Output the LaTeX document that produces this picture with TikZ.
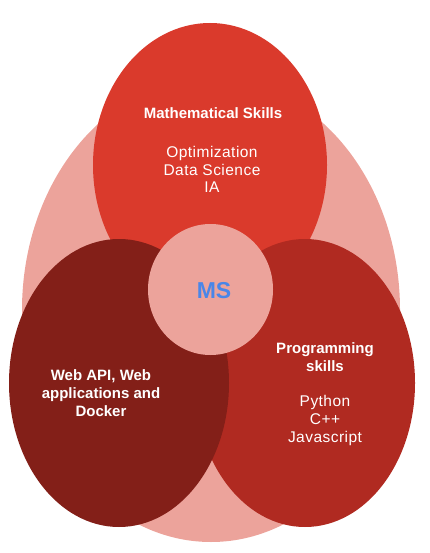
\documentclass[tikz,border=0pt]{standalone}
\usepackage{fontspec}
\setmainfont{Liberation Sans}
\usetikzlibrary{shapes.geometric}
\definecolor{bgpink}{HTML}{ECA39B}
\definecolor{topred}{HTML}{DA3A2C}
\definecolor{rightred}{HTML}{B02A21}
\definecolor{leftred}{HTML}{831F18}
\definecolor{msblue}{HTML}{4A86E8}
\tikzset{
  blob/.style={ellipse, inner sep=0pt, draw=none},
  title/.style={anchor=base, align=center, text=white, font=\fontsize{15}{18}\selectfont\bfseries},
  items/.style={anchor=base, align=center, text=white, font=\fontsize{15.5}{17.8}\selectfont\addfontfeature{LetterSpace=3}},
}
\begin{document}
\begin{tikzpicture}[x=1pt,y=-1pt]
\useasboundingbox (0,0) rectangle (429,553);
\node[blob, fill=bgpink, minimum width=378pt, minimum height=464pt] (bg) at (211,310) {};
\node[blob, fill=topred, minimum width=234pt, minimum height=284pt] (math) at (210,165) {};
\node[blob, fill=rightred, minimum width=220pt, minimum height=288pt] (prog) at (305,383) {};
\node[blob, fill=leftred, minimum width=220pt, minimum height=288pt] (web) at (119,383) {};
\node[blob, fill=bgpink, minimum width=125pt, minimum height=131pt] (core) at (210.5,289.5) {};
\node[anchor=base, text=msblue, font=\fontsize{23}{27}\selectfont\bfseries] (ms) at (214,298) {MS};
\node[title] (mathtitle) at (213,119) {Mathematical Skills};
\node[items] (mathitems) at (212,193) {Optimization\\Data Science\\IA};
\node[title] (progtitle) at (325,371) {Programming\\skills};
\node[items] (progitems) at (325,442.5) {Python\\C++\\Javascript};
\node[title] (webtitle) at (101,416.5) {Web API, Web\\applications and\\Docker};
\end{tikzpicture}
\end{document}
